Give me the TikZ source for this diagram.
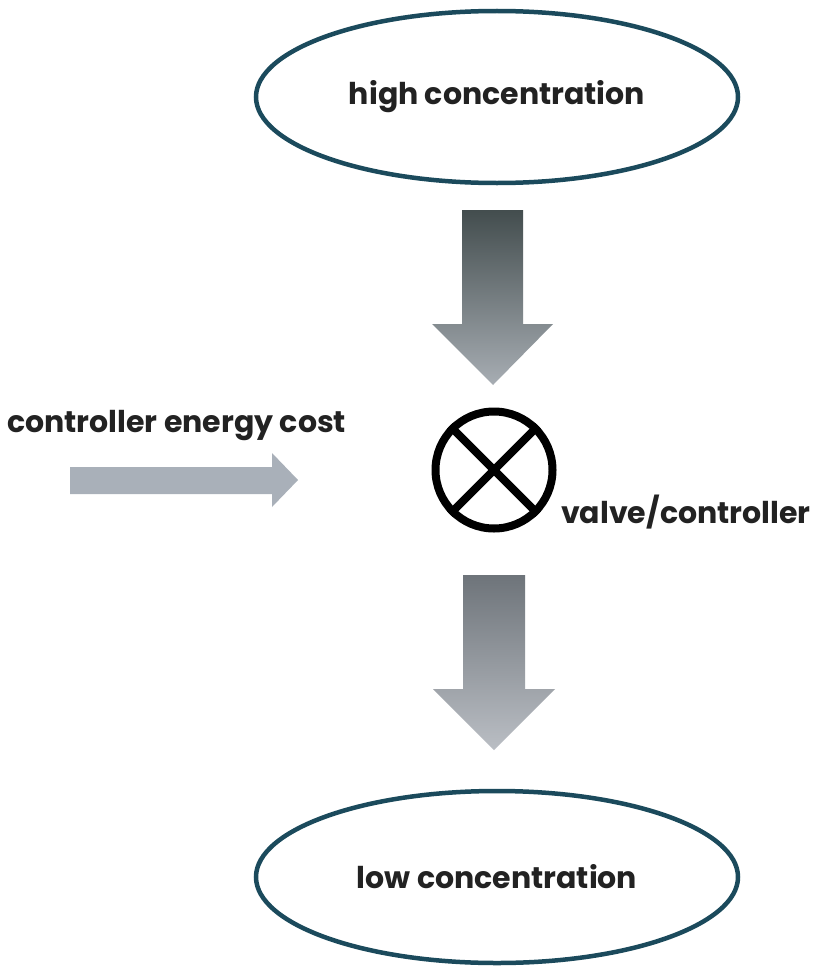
\documentclass[tikz,border=0pt]{standalone}
\usepackage{fontspec}
\setmainfont{Poppins}
\usetikzlibrary{shapes.geometric}
\definecolor{ringcol}{HTML}{1B4A5C}
\definecolor{txtcol}{HTML}{222222}
\definecolor{arrowA}{HTML}{434D4E}
\definecolor{arrowM}{HTML}{576062}
\definecolor{arrowB}{HTML}{A7ADB3}
\definecolor{arrowC}{HTML}{6E747A}
\definecolor{arrowN}{HTML}{8E949A}
\definecolor{arrowD}{HTML}{BABEC4}
\definecolor{sidecol}{HTML}{A9B0B9}
\tikzset{
  conc/.style={ellipse, draw=ringcol, line width=4.5pt, minimum width=482pt, minimum height=172pt, inner sep=0pt, font=\fontsize{30}{33}\selectfont\bfseries, text=txtcol},
  lbl/.style={inner sep=0pt, font=\fontsize{30}{33}\selectfont\bfseries, text=txtcol},
}
\begin{document}
\begin{tikzpicture}[x=1pt,y=-1pt]
\useasboundingbox (0,0) rectangle (820,974);
\fill[white] (0,0) rectangle (820,974);
\node[conc] (high) at (497,97) {high concentration};
\node[conc] (low) at (497,877) {low concentration};
% top arrow
\shade[top color=arrowA, middle color=arrowM, bottom color=arrowB]
  (462,210) -- (523,210) -- (523,324) -- (553,324) -- (493,385) -- (432,324) -- (462,324) -- cycle;
% bottom arrow
\shade[top color=arrowC, middle color=arrowN, bottom color=arrowD]
  (463,575) -- (525,575) -- (525,689) -- (555,689) -- (494,750) -- (433,689) -- (463,689) -- cycle;
% side arrow
\fill[sidecol] (70,467) -- (272,467) -- (272,453) -- (298,480) -- (272,507) -- (272,494) -- (70,494) -- cycle;
% valve
\node[circle, draw=black, line width=8pt, minimum size=117pt, inner sep=0pt] (valve) at (494,470) {};
\draw[black, line width=8pt] (valve.45) -- (valve.225);
\draw[black, line width=8pt] (valve.135) -- (valve.315);
\node[lbl, anchor=base west] (vlbl) at (561,523) {valve/controller};
\node[lbl, anchor=base west] (cost) at (7,432) {controller energy cost};
\end{tikzpicture}
\end{document}
